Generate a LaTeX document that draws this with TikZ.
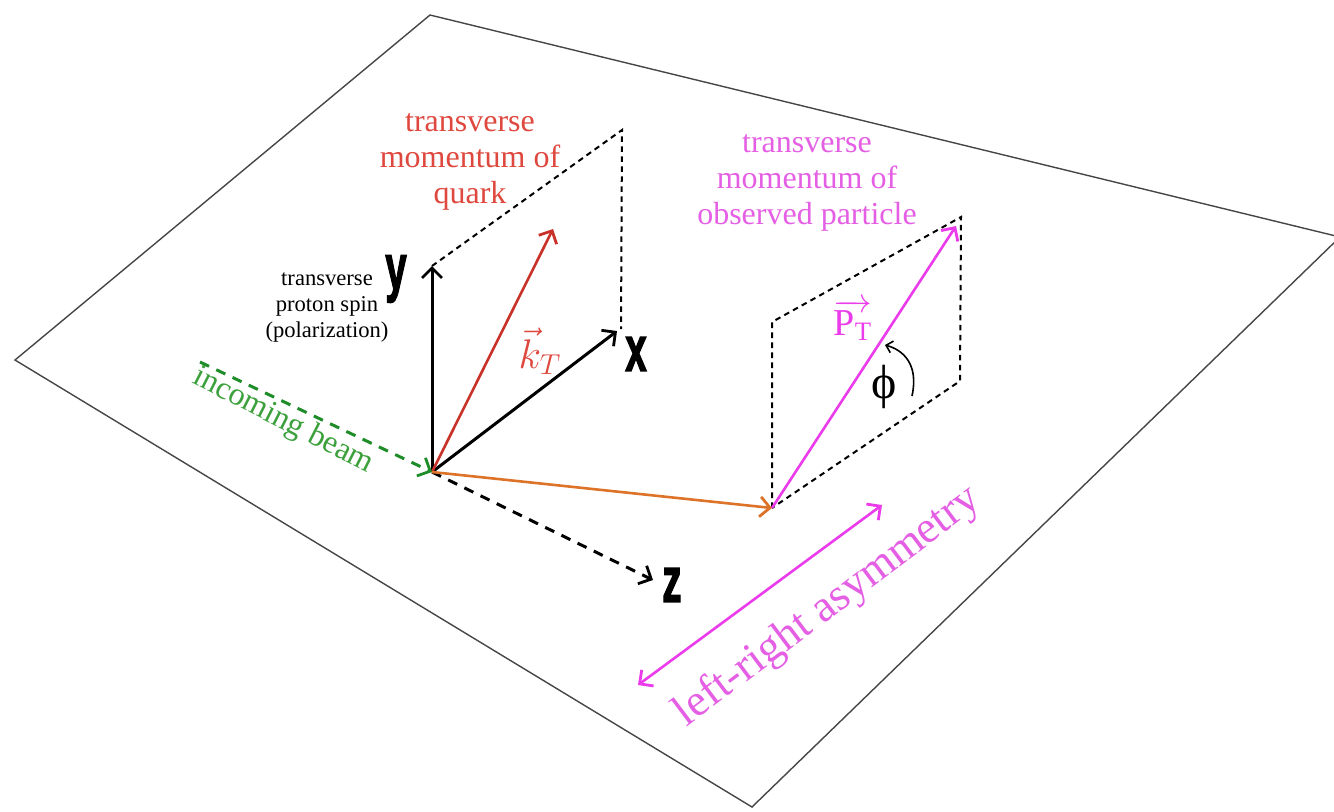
\documentclass[tikz,border=0pt]{standalone}
\usepackage{fontspec}
\setmainfont{Liberation Serif}
\newfontfamily\axisfont{Liberation Sans}[BoldFeatures={FakeBold=2.5}]
\newfontfamily\phifont{Liberation Serif}
\usetikzlibrary{arrows.meta}
\definecolor{qred}{RGB}{200,50,40}
\definecolor{qredtext}{RGB}{222,72,62}
\definecolor{qmag}{RGB}{235,60,235}
\definecolor{qmagtext}{RGB}{228,95,228}
\definecolor{qgreen}{RGB}{30,140,40}
\definecolor{qgreentext}{RGB}{60,160,60}
\definecolor{qorange}{RGB}{220,115,40}
\definecolor{planegray}{RGB}{70,70,70}
\newcommand{\axislabel}[1]{{\axisfont\bfseries\fontsize{32}{32}\selectfont\scalebox{0.6}[1]{#1}}}
\begin{document}
\begin{tikzpicture}[x=0.5pt,y=-0.5pt,
  barb/.style={-{Straight Barb[length=5pt,width=10pt,line width=1.4pt]}},
  blackvec/.style={barb,line width=1.5pt,black},
  colvec/.style={barb,line width=1.3pt},
  frame/.style={black,line width=1pt,dash pattern=on 2.8pt off 2.2pt},
  dashvec/.style={barb,line width=1.5pt,dash pattern=on 5pt off 4pt},
  plane/.style={planegray,line width=0.7pt},
  lab/.style={align=center,inner sep=0pt,font=\fontsize{16}{18}\selectfont},
  small/.style={align=center,inner sep=0pt,font=\fontsize{11.3}{13}\selectfont},
  axlab/.style={inner sep=0pt}
]
\useasboundingbox (0,0) rectangle (1334,811);
% plane
\draw[plane] (430,15) -- (1340,237) -- (752,807) -- (15,360) -- cycle;
% points
\coordinate (O) at (432,472);
\coordinate (Yt) at (432,266);
\coordinate (Xt) at (617,331);
\coordinate (Kt) at (553,229);
\coordinate (Zt) at (653,580);
\coordinate (Bs) at (200,362);
\coordinate (B) at (772,508);
\coordinate (P) at (956,226);
\coordinate (F1) at (622,130);
\coordinate (F2) at (621,329);
\coordinate (R1) at (772,322);
\coordinate (R2) at (961,217);
\coordinate (R3) at (960,381);
\coordinate (dL) at (638,685);
\coordinate (dR) at (882,505);
\coordinate (a1) at (912,396);
\coordinate (a2) at (885,345);
% dotted frames
\draw[frame] (Yt) -- (F1) -- (F2);
\draw[frame] (B) -- (R1) -- (R2) -- (R3) -- (B);
% vectors
\draw[blackvec] (O) -- (Yt);
\draw[blackvec] (O) -- (Xt);
\draw[colvec,qred] (O) -- (Kt);
\draw[dashvec,black] (O) -- (Zt);
\draw[dashvec,qgreen] (Bs) -- (O);
\draw[colvec,qorange] (O) -- (B);
\draw[colvec,qmag] (B) -- (P);
\draw[colvec,qmag,{Straight Barb[length=5pt,width=10pt,line width=1.4pt]}-{Straight Barb[length=5pt,width=10pt,line width=1.4pt]}] (dL) -- (dR);
\draw[black,line width=0.8pt,-{Straight Barb[length=3pt,width=6pt,line width=0.8pt]}] (a1) .. controls (919,364) and (903,350) .. (a2);
% labels
\node[axlab] (ylab) at (396,279) {\axislabel{y}};
\node[axlab] (xlab) at (636,354) {\axislabel{x}};
\node[axlab] (zlab) at (672,585) {\axislabel{z}};
\node[lab,text=qredtext] (quark) at (470,162) {transverse\\momentum of\\quark};
\node[small] (spin) at (327,308) {transverse\\proton spin\\(polarization)};
\node[lab,text=qmagtext] (part) at (807,183) {transverse\\momentum of\\observed particle};
\node[inner sep=0pt,text=qredtext,font=\fontsize{20}{20}\selectfont] (kT) at (540,351) {$\vec{k}_T$};
\node[inner sep=0pt,text=qmag,font=\fontsize{19}{19}\selectfont] (PT) at (853,320) {$\overrightarrow{\mathrm{P}_{\mathrm{T}}}$};
\node[inner sep=0pt,font=\phifont\fontsize{24}{24}\selectfont] (phi) at (884,387) {\symbol{"03D5}};
\node[inner sep=0pt,text=qgreentext,rotate=-27,font=\fontsize{16}{16}\selectfont] (beam) at (283,421) {incoming beam};
\node[inner sep=0pt,text=qmagtext,rotate=37,font=\fontsize{22.5}{22.5}\selectfont] (asym) at (828,607) {left-right asymmetry};
\end{tikzpicture}
\end{document}
